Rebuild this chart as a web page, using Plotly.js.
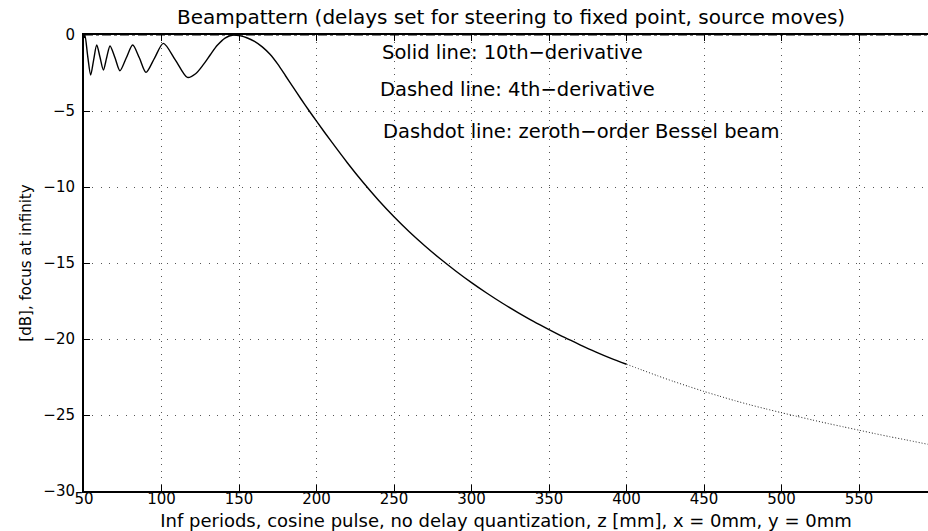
<!DOCTYPE html>
<html>
<head>
<meta charset="utf-8">
<script src="https://cdn.plot.ly/plotly-3.0.1.min.js"></script>
<style>
html,body{margin:0;padding:0;background:#fff;overflow:hidden;}
#chart{width:928px;height:531px;}
</style>
</head>
<body>
<div id="chart"></div>
<script>
// Solid line (10th-derivative), z in mm, level in dB
const zSolid = [50, 50.6, 52.4, 54.3, 56.2, 58.2, 60.3, 62.5, 64.6, 66.8, 70.0, 73.2, 77.3, 81.4, 85.7, 90.0, 95.6, 101.2, 109, 116.7, 122, 127, 131.5, 136, 141, 146.3, 151, 155, 160, 165, 170, 175, 180, 185, 190, 195, 200, 210, 220, 230, 240, 250, 260, 270, 280, 290, 300, 310, 320, 330, 340, 350, 360, 370, 380, 390, 400];
const dBSolid = [-0.2, 0, -1.4, -2.63, -1.65, -0.66, -1.45, -2.3, -1.5, -0.72, -1.5, -2.35, -1.5, -0.66, -1.5, -2.46, -1.5, -0.55, -1.65, -2.79, -2.55, -1.95, -1.3, -0.68, -0.2, 0, -0.06, -0.18, -0.42, -0.78, -1.27, -1.92, -2.68, -3.45, -4.21, -4.95, -5.67, -7.07, -8.42, -9.69, -10.87, -11.96, -12.96, -13.88, -14.74, -15.54, -16.29, -16.99, -17.65, -18.26, -18.84, -19.38, -19.9, -20.38, -20.84, -21.27, -21.66];
// Dotted continuation beyond 400 mm
const zDotted = [400, 410, 420, 430, 440, 450, 460, 470, 480, 490, 500, 510, 520, 530, 540, 550, 560, 570, 580, 594.5];
const dBDotted = [-21.66, -22.04, -22.42, -22.78, -23.12, -23.45, -23.76, -24.06, -24.34, -24.6, -24.85, -25.09, -25.33, -25.56, -25.78, -26.0, -26.22, -26.43, -26.63, -26.93];
// Dashdot line (zeroth-order Bessel beam)
const zBessel = [50, 594.5];
const dBBessel = [0, 0];

const xTicks = [50, 100, 150, 200, 250, 300, 350, 400, 450, 500, 550];
const yTicks = [0, -5, -10, -15, -20, -25, -30];

const titleText = 'Beampattern (delays set for steering to fixed point, source moves)';
const xLabel = 'Inf periods, cosine pulse, no delay quantization, z [mm], x = 0mm, y = 0mm';
const yLabel = '[dB], focus at infinity';
const notes = ['Solid line: 10th\u2212derivative', 'Dashed line: 4th\u2212derivative', 'Dashdot line: zeroth\u2212order Bessel beam'];
const noteX = [240.9, 239.8, 241.3];
const noteY = [-1.18, -3.57, -6.34];

const FONT = 'DejaVu Sans, sans-serif';

const traces = [
  {x: zBessel, y: dBBessel, mode: 'lines', line: {color: '#000', width: 1.2, dash: 'dashdot'}, hoverinfo: 'skip'},
  {x: zDotted, y: dBDotted, mode: 'lines', line: {color: '#222', width: 1, dash: '1px,2px', shape: 'spline', smoothing: 0.6}},
  {x: zSolid, y: dBSolid, mode: 'lines', line: {color: '#000', width: 1.4, shape: 'spline', smoothing: 0.8}}
];

const layout = {
  width: 928, height: 531,
  margin: {l: 84, r: 0, t: 35, b: 40},
  paper_bgcolor: '#fff', plot_bgcolor: '#fff',
  showlegend: false,
  font: {family: FONT, color: '#000', size: 15},
  title: {text: titleText, font: {family: FONT, size: 20, color: '#000'}, x: 0.506, xref: 'paper', xanchor: 'center', y: 1 - 17.2/531, yanchor: 'middle'},
  xaxis: {
    range: [50, 594.5], tickvals: xTicks, ticktext: xTicks.map(String),
    ticks: 'inside', ticklen: 6, tickwidth: 1, tickcolor: '#000',
    showline: true, linecolor: '#000', linewidth: 1.6, mirror: 'ticks',
    showgrid: true, gridcolor: '#555', gridwidth: 1, griddash: '1px,5.5px',
    zeroline: false, tickfont: {family: FONT, size: 15, color: '#000'}, ticklabelstandoff: -7,
    title: {text: xLabel, font: {family: FONT, size: 18, color: '#000'}, standoff: 12}
  },
  yaxis: {
    range: [-30, 0], tickvals: yTicks, ticktext: yTicks.map(v => v < 0 ? '\u2212' + Math.abs(v) : String(v)),
    ticks: 'inside', ticklen: 6, tickwidth: 1, tickcolor: '#000',
    showline: true, linecolor: '#000', linewidth: 2, mirror: false,
    showgrid: true, gridcolor: '#555', gridwidth: 1, griddash: '1px,7.3px',
    zeroline: false, tickfont: {family: FONT, size: 15, color: '#000'}, ticklabelstandoff: 4,
    title: {text: yLabel, font: {family: FONT, size: 15, color: '#000'}, standoff: 8}
  },
  annotations: notes.map((t, i) => ({
    text: t, x: noteX[i], y: noteY[i], xref: 'x', yref: 'y',
    xanchor: 'left', yanchor: 'middle', showarrow: false,
    font: {family: FONT, size: 19.5, color: '#000'}
  }))
};

Plotly.newPlot('chart', traces, layout, {staticPlot: true, displayModeBar: false});
</script>
</body>
</html>
